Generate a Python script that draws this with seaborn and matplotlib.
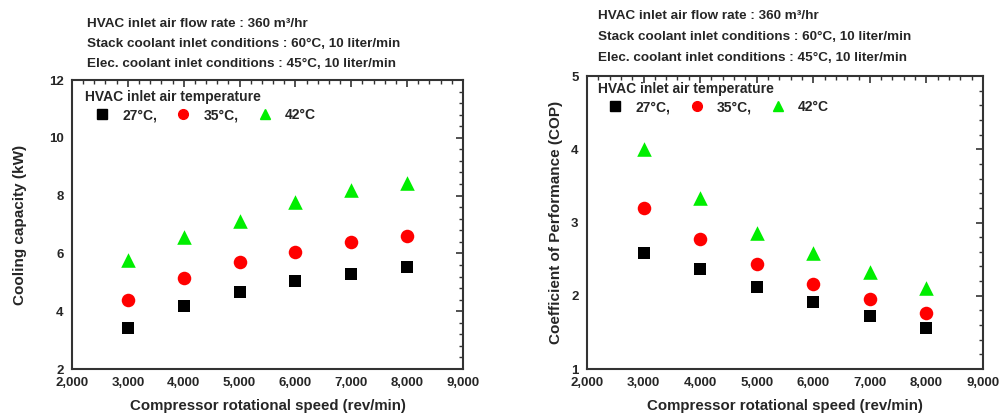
import pandas as pd
import seaborn as sns
import matplotlib.pyplot as plt
from matplotlib.ticker import MultipleLocator, StrMethodFormatter
from matplotlib.lines import Line2D

sns.set_style("white")
plt.rcParams['font.family'] = ['Liberation Sans', 'DejaVu Sans']
plt.rcParams['font.weight'] = 'bold'
plt.rcParams['axes.labelweight'] = 'bold'

# data
speed = [3000, 4000, 5000, 6000, 7000, 8000]
temps = ['27°C,', '35°C,', '42°C']
cap_27 = [3.41, 4.17, 4.65, 5.03, 5.28, 5.53]
cap_35 = [4.39, 5.15, 5.70, 6.05, 6.41, 6.61]
cap_42 = [5.77, 6.58, 7.13, 7.77, 8.19, 8.42]
cop_27 = [2.58, 2.36, 2.12, 1.91, 1.72, 1.56]
cop_35 = [3.20, 2.78, 2.43, 2.16, 1.96, 1.76]
cop_42 = [4.01, 3.33, 2.85, 2.58, 2.32, 2.11]

header = ['HVAC inlet air flow rate : 360 m³/hr',
          'Stack coolant inlet conditions : 60°C, 10 liter/min',
          'Elec. coolant inlet conditions : 45°C, 10 liter/min']

colors = ['#000000', '#ff0000', '#00ee00']
markers = ['s', 'o', '^']
sizes = [75, 95, 110]

def long_df(a, b, c):
    rows = []
    for t, vals in zip(temps, [a, b, c]):
        for s, v in zip(speed, vals):
            rows.append({'speed': s, 'val': v, 'temp': t})
    return pd.DataFrame(rows)

cap = long_df(cap_27, cap_35, cap_42)
cop = long_df(cop_27, cop_35, cop_42)

fig = plt.figure(figsize=(10.01, 4.17), dpi=100)
ax1 = fig.add_axes([0.0719, 0.1151, 0.3906, 0.693])
ax2 = fig.add_axes([0.5864, 0.1151, 0.3956, 0.7026])

for ax, df, leg_x, leg_y in [(ax1, cap, 0.02, 0.985), (ax2, cop, 0.015, 0.998)]:
    for t, c, m, sz in zip(temps, colors, markers, sizes):
        sns.scatterplot(data=df[df['temp'] == t], x='speed', y='val', ax=ax,
                        color=c, marker=m, s=sz, linewidth=0, legend=False)
    ax.set_xlim(2000, 9000)
    ax.xaxis.set_major_locator(MultipleLocator(1000))
    ax.xaxis.set_minor_locator(MultipleLocator(200))
    ax.xaxis.set_major_formatter(StrMethodFormatter('{x:,.0f}'))
    ax.tick_params(which='both', direction='in', top=True, right=True,
                   labelsize=9.5, color='#333333')
    ax.tick_params(which='major', length=5, width=1.2, pad=6)
    ax.tick_params(which='minor', length=3, width=1)
    for sp in ax.spines.values():
        sp.set_color('#333333')
        sp.set_linewidth(1.5)
    ax.set_xlabel('Compressor rotational speed (rev/min)', fontsize=10.8, labelpad=7)

    handles = [Line2D([], [], linestyle='none', marker=m, color=c, markersize=7)
               for c, m in zip(colors, markers)]
    ax.legend(handles, temps, ncol=3, title='HVAC inlet air temperature',
              loc='upper left', bbox_to_anchor=(leg_x, leg_y), frameon=False,
              prop={'weight': 'bold', 'size': 10},
              title_fontproperties={'weight': 'bold', 'size': 10},
              alignment='left', handlelength=2.4, handletextpad=0.25,
              columnspacing=0.7, labelspacing=0.3, borderaxespad=0)

ax1.set_ylim(2, 12)
ax1.yaxis.set_major_locator(MultipleLocator(2))
ax1.yaxis.set_minor_locator(MultipleLocator(0.4))
ax1.set_ylabel('Cooling capacity (kW)', fontsize=11, labelpad=16)

ax2.set_ylim(1, 5)
ax2.yaxis.set_major_locator(MultipleLocator(1))
ax2.yaxis.set_minor_locator(MultipleLocator(0.2))
ax2.set_ylabel('Coefficient of Performance (COP)', fontsize=11, labelpad=6)

for i, line in enumerate(header):
    fig.text(87 / 1001, 1 - (24 + 20 * i) / 417, line, fontsize=9.7,
             fontweight='bold', va='center')
    fig.text(598 / 1001, 1 - (16 + 21 * i) / 417, line, fontsize=9.7,
             fontweight='bold', va='center')

fig.savefig('out.png', dpi=100)
